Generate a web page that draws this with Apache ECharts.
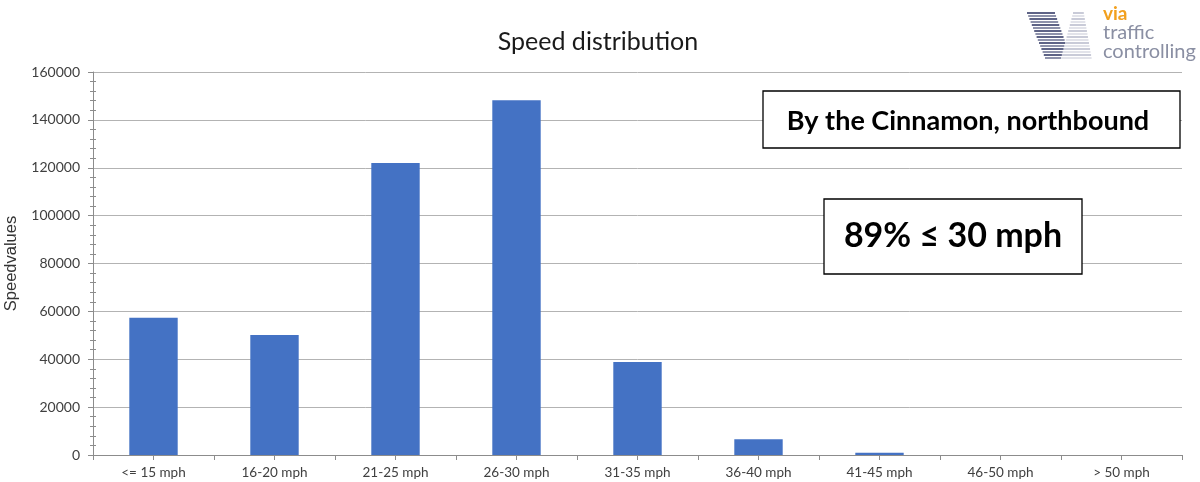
<!DOCTYPE html>
<html>
<head>
<meta charset="utf-8">
<script src="https://cdn.jsdelivr.net/npm/echarts@6/dist/echarts.min.js"></script>
<style>html,body{margin:0;padding:0;background:#fff;}#c{width:1200px;height:482px;}</style>
</head>
<body>
<div id="c"></div>
<script>
const categories = ['<= 15 mph','16-20 mph','21-25 mph','26-30 mph','31-35 mph','36-40 mph','41-45 mph','46-50 mph','> 50 mph'];
const speedValues = [57300, 50100, 122000, 148200, 38800, 6600, 900, 20, 5];
const yTicks = {min: 0, max: 160000, interval: 20000};
const titleText = 'Speed distribution';
const yName = 'Speedvalues';
const note1 = 'By the Cinnamon, northbound';
const note2 = '89% \u2264 30 mph';

const chart = echarts.init(document.getElementById('c'), null, {renderer: 'canvas'});
const font = 'Lato, "Open Sans", sans-serif';

// logo stripes
const logo = [];
const lx = 1025, ly = 12;
for (let i = 0; i < 16; i++) {
  const y = ly + i * 3;
  const t = i / 15;
  logo.push({type: 'rect', shape: {x: lx + 2 + t * 18, y: y, width: 28 - t * 2, height: 2},
    style: {fill: i % 2 ? '#8e92ab' : '#5f6487'}});
  const w = 12 + t * 22;
  logo.push({type: 'rect', shape: {x: lx + 38 + (1 - t) * 10 - t * 2, y: y, width: w * 0.9, height: 2},
    style: {fill: i % 2 ? '#e2e3ea' : '#c9cbd8'}});
}

chart.setOption({
  animation: false,
  backgroundColor: '#fff',
  title: {
    text: titleText, left: 593, top: 24, textAlign: 'center',
    textStyle: {fontFamily: font, fontSize: 25, fontWeight: 'normal', color: '#1a1a1a'}
  },
  grid: {left: 93, right: 18, top: 72, bottom: 27, containLabel: false, outerBoundsMode: 'none'},
  xAxis: [{
    type: 'category', data: categories, boundaryGap: true,
    axisLine: {lineStyle: {color: '#8c8c8c', width: 1}},
    axisTick: {show: true, interval: 0, length: 5, lineStyle: {color: '#8c8c8c'}},
    axisLabel: {interval: 0, margin: 11, fontFamily: font, fontSize: 13.5, color: '#404040'},
    splitLine: {show: false}
  }, {
    type: 'category', data: categories, position: 'bottom', boundaryGap: true,
    axisLine: {show: false},
    axisTick: {show: true, alignWithLabel: true, interval: 0, length: 5, lineStyle: {color: '#8c8c8c'}},
    axisLabel: {show: false}, splitLine: {show: false}
  }],
  yAxis: [{
    type: 'value', min: yTicks.min, max: yTicks.max, interval: yTicks.interval,
    name: yName, nameLocation: 'middle', nameGap: 66, nameRotate: 90,
    nameTextStyle: {fontFamily: '"Liberation Sans", Arial, sans-serif', fontSize: 16.5, color: '#333'},
    axisLine: {show: true, lineStyle: {color: '#8c8c8c'}},
    axisTick: {show: true, length: 5, lineStyle: {color: '#8c8c8c'}},
    minorTick: {show: true, splitNumber: 5, length: 3, lineStyle: {color: '#8c8c8c'}},
    axisLabel: {margin: 13, fontFamily: font, fontSize: 14, color: '#404040', formatter: v => String(v)},
    splitLine: {show: true, lineStyle: {color: '#b3b3b3', width: 1}},
    minorSplitLine: {show: false}
  }, {
    type: 'value', position: 'left', offset: 0, min: yTicks.min, max: yTicks.max, interval: yTicks.interval,
    axisLine: {show: false},
    axisTick: {show: false, inside: true},
    minorTick: {show: true, splitNumber: 5, length: 3, lineStyle: {color: '#8c8c8c'}},
    axisLabel: {show: false}, splitLine: {show: false}
  }],
  series: [{
    type: 'bar', data: speedValues, barWidth: '40%',
    itemStyle: {color: '#4472c4'}
  }],
  graphic: [
    {type: 'group', children: logo},
    {type: 'text', x: 1103, y: 4, style: {text: 'via', fontFamily: font, fontWeight: 'bold', fontSize: 19, fill: '#f2a01e'}},
    {type: 'text', x: 1103, y: 23, style: {text: 'traffic', fontFamily: font, fontSize: 20, fill: '#8a8fa3'}},
    {type: 'text', x: 1103, y: 42, style: {text: 'controlling', fontFamily: font, fontSize: 20, fill: '#8a8fa3'}},
    {type: 'rect', shape: {x: 763, y: 91, width: 417, height: 57}, style: {fill: '#fff', stroke: '#000', lineWidth: 1.3}, z: 100},
    {type: 'text', x: 968, y: 121, z: 101, style: {text: note1, align: 'center', verticalAlign: 'middle', fontFamily: font, fontWeight: 'bold', fontSize: 27, fill: '#000'}},
    {type: 'rect', shape: {x: 824, y: 199, width: 258, height: 75}, style: {fill: '#fff', stroke: '#000', lineWidth: 1.3}, z: 100},
    {type: 'text', x: 953, y: 236, z: 101, style: {text: note2, align: 'center', verticalAlign: 'middle', fontFamily: font, fontWeight: 'bold', fontSize: 34, fill: '#000'}}
  ]
});
</script>
</body>
</html>
